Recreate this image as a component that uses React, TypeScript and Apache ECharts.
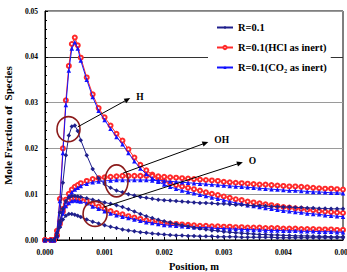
import { useEffect, useRef } from "react";
import * as echarts from "echarts";

// Axial position (m)
const positions = [
  0, 0.0001, 0.00015, 0.0002, 0.00025, 0.0003, 0.00035, 0.0004, 0.00045, 0.0005, 0.00055, 0.0006,
  0.0007, 0.0008, 0.0009, 0.001, 0.0011, 0.0012, 0.0013, 0.0014, 0.0015, 0.0016, 0.0017, 0.0018,
  0.0019, 0.002, 0.0021, 0.0022, 0.0023, 0.0024, 0.0025, 0.0026, 0.0027, 0.0028, 0.0029, 0.003,
  0.0031, 0.0032, 0.0033, 0.0034, 0.0035, 0.0036, 0.0037, 0.0038, 0.0039, 0.004, 0.0041, 0.0042,
  0.0043, 0.0044, 0.0045, 0.0046, 0.0047, 0.0048, 0.0049, 0.005,
];

// R = 0.1
const hBase = [
  0, 0, 0, 0.0015, 0.006, 0.0125, 0.0185, 0.0228, 0.0248, 0.025,
  0.0238, 0.0218, 0.0185, 0.0155, 0.0135, 0.0122, 0.0114, 0.0108, 0.0104, 0.01,
  0.0097, 0.0094, 0.0092, 0.009, 0.0088, 0.0087, 0.0086, 0.0085, 0.0084, 0.0083,
  0.0082, 0.0081, 0.0081, 0.008, 0.0079, 0.0079, 0.0078, 0.0077, 0.0077, 0.0076,
  0.0075, 0.0075, 0.0074, 0.0073, 0.0073, 0.0072, 0.0072, 0.0071, 0.0071, 0.007,
  0.007, 0.0069, 0.0069, 0.0068, 0.0068, 0.0068,
];
const ohBase = [
  0, 0, 0, 0.001, 0.004, 0.0068, 0.0085, 0.0093, 0.0096, 0.0096,
  0.0095, 0.0094, 0.0091, 0.0088, 0.0085, 0.0082, 0.0079, 0.0076, 0.0072, 0.0067,
  0.0062, 0.0057, 0.0052, 0.0048, 0.0044, 0.0041, 0.0038, 0.0035, 0.0032, 0.003,
  0.0027, 0.0025, 0.0023, 0.0021, 0.002, 0.0018, 0.0017, 0.0016, 0.0015, 0.0014,
  0.0013, 0.0012, 0.0012, 0.0011, 0.0011, 0.001, 0.001, 0.0009, 0.0009, 0.0009,
  0.0008, 0.0008, 0.0008, 0.0007, 0.0007, 0.0007,
];
const oBase = [
  0, 0, 0, 0.0008, 0.0028, 0.0045, 0.0053, 0.0057, 0.0057, 0.0055,
  0.0053, 0.005, 0.0045, 0.004, 0.0036, 0.0032, 0.0029, 0.0026, 0.0023, 0.0021,
  0.0019, 0.0017, 0.0016, 0.0014, 0.0013, 0.0012, 0.0011, 0.001, 0.001, 0.0009,
  0.0009, 0.0008, 0.0008, 0.0008, 0.0007, 0.0007, 0.0007, 0.0007, 0.0006, 0.0006,
  0.0006, 0.0006, 0.0006, 0.0006, 0.0005, 0.0005, 0.0005, 0.0005, 0.0005, 0.0005,
  0.0005, 0.0005, 0.0005, 0.0005, 0.0005, 0.0005,
];

// R = 0.1, HCl as inert
const hHcl = [
  0, 0, 0, 0.002, 0.009, 0.02, 0.0305, 0.038, 0.0428, 0.0442,
  0.0425, 0.0398, 0.0355, 0.0318, 0.0288, 0.0268, 0.025, 0.0232, 0.0217, 0.0198,
  0.018, 0.0164, 0.0152, 0.0143, 0.0135, 0.0129, 0.0124, 0.012, 0.0117, 0.0114,
  0.0111, 0.0108, 0.0104, 0.0101, 0.0098, 0.0095, 0.0092, 0.0089, 0.0087, 0.0084,
  0.0082, 0.008, 0.0078, 0.0076, 0.0074, 0.0072, 0.0071, 0.0069, 0.0068, 0.0066,
  0.0065, 0.0063, 0.0062, 0.0061, 0.006, 0.0059,
];
const ohHcl = [
  0, 0, 0, 0.001, 0.004, 0.0068, 0.0088, 0.0101, 0.011, 0.0116,
  0.012, 0.0124, 0.0129, 0.0133, 0.0135, 0.0137, 0.0138, 0.0139, 0.014, 0.014,
  0.014, 0.014, 0.014, 0.014, 0.0139, 0.0138, 0.0137, 0.0136, 0.0135, 0.0134,
  0.0133, 0.0132, 0.0131, 0.013, 0.0129, 0.0127, 0.0126, 0.0125, 0.0124, 0.0123,
  0.0122, 0.0121, 0.0121, 0.012, 0.0119, 0.0118, 0.0117, 0.0117, 0.0116, 0.0115,
  0.0114, 0.0113, 0.0112, 0.0112, 0.0111, 0.011,
];
const oHcl = [
  0, 0, 0, 0.001, 0.0035, 0.0062, 0.0078, 0.0086, 0.009, 0.0091,
  0.0091, 0.009, 0.0085, 0.0078, 0.0073, 0.0068, 0.0063, 0.0059, 0.0056, 0.0052,
  0.0049, 0.0046, 0.0043, 0.0041, 0.0039, 0.0037, 0.0036, 0.0035, 0.0034, 0.0033,
  0.0032, 0.0031, 0.0031, 0.003, 0.003, 0.0029, 0.0029, 0.0028, 0.0028, 0.0027,
  0.0027, 0.0027, 0.0026, 0.0026, 0.0026, 0.0025, 0.0025, 0.0025, 0.0024, 0.0024,
  0.0024, 0.0023, 0.0023, 0.0023, 0.0022, 0.0022,
];

// R = 0.1, CO2 as inert
const hCo2 = [
  0, 0, 0, 0.0018, 0.0085, 0.019, 0.0295, 0.037, 0.0418, 0.0432,
  0.0418, 0.0392, 0.035, 0.0312, 0.0282, 0.0262, 0.0243, 0.0225, 0.0209, 0.019,
  0.0172, 0.0156, 0.0144, 0.0135, 0.0127, 0.0121, 0.0116, 0.0112, 0.0108, 0.0105,
  0.0102, 0.0099, 0.0096, 0.0093, 0.009, 0.0087, 0.0084, 0.0081, 0.0079, 0.0076,
  0.0074, 0.0072, 0.007, 0.0068, 0.0066, 0.0064, 0.0063, 0.0061, 0.006, 0.0058,
  0.0057, 0.0056, 0.0054, 0.0053, 0.0052, 0.0051,
];
const ohCo2 = [
  0, 0, 0, 0.0009, 0.0038, 0.0065, 0.0084, 0.0096, 0.0104, 0.011,
  0.0114, 0.0118, 0.0123, 0.0126, 0.0128, 0.0129, 0.013, 0.0131, 0.0131, 0.0131,
  0.0131, 0.0131, 0.0131, 0.013, 0.013, 0.0129, 0.0128, 0.0127, 0.0126, 0.0125,
  0.0124, 0.0123, 0.0122, 0.0121, 0.012, 0.0119, 0.0118, 0.0117, 0.0116, 0.0115,
  0.0114, 0.0113, 0.0112, 0.0111, 0.011, 0.0109, 0.0108, 0.0108, 0.0107, 0.0106,
  0.0105, 0.0105, 0.0104, 0.0103, 0.0103, 0.0102,
];
const oCo2 = [
  0, 0, 0, 0.0009, 0.0032, 0.0058, 0.0074, 0.0081, 0.0085, 0.0086,
  0.0085, 0.0084, 0.008, 0.0073, 0.0068, 0.0063, 0.0058, 0.0054, 0.0051, 0.0048,
  0.0045, 0.0042, 0.0039, 0.0037, 0.0035, 0.0033, 0.0032, 0.0031, 0.003, 0.0029,
  0.0028, 0.0027, 0.0027, 0.0026, 0.0025, 0.0025, 0.0024, 0.0024, 0.0023, 0.0023,
  0.0022, 0.0022, 0.0021, 0.0021, 0.0021, 0.002, 0.002, 0.002, 0.0019, 0.0019,
  0.0019, 0.0018, 0.0018, 0.0018, 0.0017, 0.0017,
];

const caseNames = ["R=0.1", "R=0.1(HCl as inert)", "R=0.1(CO\u2082 as inert)"];

// Species callouts: label, ellipse centre, arrow start and arrow tip (data units)
const calloutLabels = ["H", "OH", "O"];
const calloutCentres = [
  [0.000394, 0.0242],
  [0.0012, 0.0129],
  [0.00084, 0.0057],
];
const calloutRadii = [
  [11.5, 12.5],
  [11.5, 16],
  [12, 12.5],
];
const arrowStarts = [
  [0.00055, 0.0247],
  [0.00131, 0.0146],
  [0.00099, 0.0072],
];
const arrowTips = [
  [0.00143, 0.031],
  [0.00274, 0.0214],
  [0.00332, 0.017],
];

const FONT = '"Liberation Serif", "Times New Roman", serif';

const caseStyles = [
  { color: "#1f1f8c", symbol: "diamond", symbolSize: 4.5, border: 1 },
  { color: "#ff2a2a", symbol: "emptyCircle", symbolSize: 4, border: 0.9 },
  { color: "#1212ff", symbol: "triangle", symbolSize: 4.5, border: 1 },
];

function makeSeries(name: string, ys: number[], styleIdx: number, z: number) {
  const st = caseStyles[styleIdx];
  return {
    type: "line",
    name,
    data: positions.map((x, i) => [x, ys[i]]),
    symbol: st.symbol,
    symbolSize: st.symbolSize,
    showAllSymbol: true,
    lineStyle: { color: st.color, width: 1 },
    itemStyle: { color: st.color, borderWidth: st.border },
    z,
  };
}

export default function App() {
  const ref = useRef<HTMLDivElement>(null);

  useEffect(() => {
    if (!ref.current) return;
    const chart = echarts.init(ref.current, null, { renderer: "svg" });

    chart.setOption({
      animation: false,
      backgroundColor: "#fff",
      grid: {
        left: 45,
        right: 4,
        top: 11,
        bottom: 32,
        outerBoundsMode: "none",
        containLabel: false,
        show: true,
        borderColor: "#000",
        borderWidth: 1,
      },
      legend: {
        orient: "vertical",
        left: 208,
        top: 16,
        data: caseNames,
        itemWidth: 16,
        itemHeight: 4,
        itemGap: 9,
        padding: [6, 4, 6, 8],
        backgroundColor: "#fff",
        textStyle: { fontFamily: FONT, fontSize: 10.5, fontWeight: "bold", color: "#000" },
      },
      xAxis: {
        type: "value",
        min: 0,
        max: 0.005,
        interval: 0.001,
        name: "Position, m",
        nameLocation: "middle",
        nameGap: 20,
        nameTextStyle: { fontFamily: FONT, fontSize: 10.5, fontWeight: "bold", color: "#000" },
        axisLine: { lineStyle: { color: "#000", width: 1 } },
        axisTick: { inside: true, length: 3, lineStyle: { color: "#000" } },
        minorTick: { show: true, splitNumber: 5, length: 3, lineStyle: { color: "#000" } },
        splitLine: { show: false },
        axisLabel: {
          formatter: (v: number) => v.toFixed(3),
          fontFamily: FONT,
          fontSize: 7.5,
          fontWeight: "bold",
          color: "#000",
          margin: 8,
          showMaxLabel: true,
          hideOverlap: false,
        },
      },
      yAxis: {
        type: "value",
        min: 0,
        max: 0.05,
        interval: 0.01,
        name: "Mole Fraction of  Species",
        nameLocation: "middle",
        nameGap: 27,
        nameTextStyle: { fontFamily: FONT, fontSize: 11, fontWeight: "bold", color: "#000" },
        axisLine: { lineStyle: { color: "#000", width: 1 } },
        axisTick: { inside: true, length: 3, lineStyle: { color: "#000" } },
        minorTick: { show: true, splitNumber: 5, length: 2, lineStyle: { color: "#000" } },
        splitLine: {
          show: true,
          lineStyle: { color: ["#9a9a9a", "#9a9a9a", "#9a9a9a", "#9a9a9a", "#333", "#9a9a9a"], width: 1 },
        },
        axisLabel: {
          formatter: (v: number) => v.toFixed(2),
          fontFamily: FONT,
          fontSize: 7.5,
          fontWeight: "bold",
          color: "#000",
          margin: 7,
        },
      },
      series: [
        makeSeries(caseNames[1], hHcl, 1, 2),
        makeSeries(caseNames[1], ohHcl, 1, 2),
        makeSeries(caseNames[1], oHcl, 1, 2),
        makeSeries(caseNames[2], hCo2, 2, 3),
        makeSeries(caseNames[2], ohCo2, 2, 3),
        makeSeries(caseNames[2], oCo2, 2, 3),
        makeSeries(caseNames[0], hBase, 0, 4),
        makeSeries(caseNames[0], ohBase, 0, 4),
        makeSeries(caseNames[0], oBase, 0, 4),
      ],
    });

    // Callout ellipses and arrows, placed through the grid's coordinate system
    const toPx = (p: number[]) => chart.convertToPixel({ gridIndex: 0 }, p) as number[];
    const graphics: any[] = [];
    calloutLabels.forEach((label, i) => {
      const c = toPx(calloutCentres[i]);
      const s = toPx(arrowStarts[i]);
      const t = toPx(arrowTips[i]);
      const dx = t[0] - s[0];
      const dy = t[1] - s[1];
      const len = Math.hypot(dx, dy);
      const ux = dx / len;
      const uy = dy / len;
      const headL = 6;
      const headW = 2.6;
      const bx = t[0] - ux * headL;
      const by = t[1] - uy * headL;
      graphics.push({
        type: "ellipse",
        shape: { cx: c[0], cy: c[1], rx: calloutRadii[i][0], ry: calloutRadii[i][1] },
        style: { fill: "none", stroke: "#8b1a1a", lineWidth: 1.6 },
        z: 100,
      });
      graphics.push({
        type: "line",
        shape: { x1: s[0], y1: s[1], x2: bx + ux * 1, y2: by + uy * 1 },
        style: { stroke: "#000", lineWidth: 1 },
        z: 101,
      });
      graphics.push({
        type: "polygon",
        shape: {
          points: [
            [t[0], t[1]],
            [bx - uy * headW, by + ux * headW],
            [bx + uy * headW, by - ux * headW],
          ],
        },
        style: { fill: "#000" },
        z: 101,
      });
      graphics.push({
        type: "text",
        x: t[0] + 6,
        y: t[1] - 1.5,
        style: {
          text: label,
          fontFamily: FONT,
          fontSize: 9.5,
          fontWeight: "bold",
          fill: "#000",
          verticalAlign: "middle",
          align: "left",
        },
        z: 101,
      });
    });
    chart.setOption({ graphic: graphics });

    return () => chart.dispose();
  }, []);

  return (
    <div
      ref={ref}
      style={{ position: "fixed", left: 0, top: 0, width: 347, height: 272, background: "#fff" }}
    />
  );
}
